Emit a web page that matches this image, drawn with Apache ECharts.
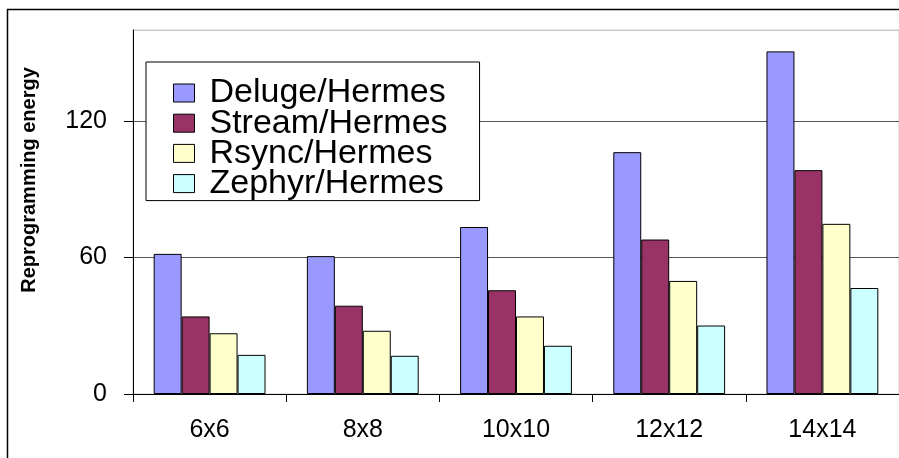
<!DOCTYPE html>
<html>
<head>
<meta charset="utf-8">
<script src="https://cdn.jsdelivr.net/npm/echarts@6/dist/echarts.min.js"></script>
<style>
html,body{margin:0;padding:0;background:#fff;}
#chart{width:899px;height:458px;}
</style>
</head>
<body>
<div id="chart"></div>
<script>
var categories = ['6x6', '8x8', '10x10', '12x12', '14x14'];
var seriesNames = ['Deluge/Hermes', 'Stream/Hermes', 'Rsync/Hermes', 'Zephyr/Hermes'];
var deluge = [61.6, 60.6, 73.4, 106.3, 150.6];
var stream = [34.1, 38.8, 45.6, 67.9, 98.4];
var rsync = [26.7, 27.8, 34.1, 49.7, 74.8];
var zephyr = [17.2, 16.8, 21.2, 30.1, 46.6];
var yTicks = [0, 60, 120];
var yAxisTitle = 'Reprogramming energy';

var colors = ['#9999FF', '#993366', '#FFFFCC', '#CCFFFF'];
var values = [deluge, stream, rsync, zephyr];
var FONT = '"Liberation Sans", Arial, sans-serif';

var chart = echarts.init(document.getElementById('chart'));
chart.setOption({
  animation: false,
  backgroundColor: '#fff',
  color: colors,
  grid: {
    left: 133, top: 30, right: -11, bottom: 64,
    show: true, borderColor: '#c8c8c8', borderWidth: 1, backgroundColor: 'transparent'
  },
  legend: {
    orient: 'vertical',
    left: 146, top: 62,
    backgroundColor: '#fff',
    borderColor: '#000', borderWidth: 1,
    padding: [14, 32, 0, 27],
    itemWidth: 21, itemHeight: 18, itemGap: -3.8,
    icon: 'rect',
    itemStyle: { borderColor: '#000', borderWidth: 1 },
    textStyle: { fontFamily: FONT, fontSize: 34, color: '#000', padding: [0, 0, 0, 10] },
    data: seriesNames
  },
  xAxis: {
    type: 'category',
    data: categories,
    boundaryGap: true,
    axisLine: { lineStyle: { color: '#000', width: 1 } },
    axisTick: { show: true, length: 8, lineStyle: { color: '#000' } },
    axisLabel: { fontFamily: FONT, fontSize: 25, color: '#000', margin: 24 },
    splitLine: { show: false }
  },
  yAxis: {
    type: 'value',
    min: 0, max: 160, interval: 60,
    axisLine: { show: true, lineStyle: { color: '#000', width: 1 } },
    axisTick: { show: true, length: 9, lineStyle: { color: '#000' } },
    axisLabel: {
      fontFamily: FONT, fontSize: 25, color: '#000', margin: 26, showMaxLabel: false,
      formatter: function (v) { return yTicks.indexOf(v) >= 0 ? String(v) : ''; }
    },
    splitLine: { show: true, lineStyle: { color: ['#555', '#555', '#555', '#c8c8c8'], width: 1 } }
  },
  graphic: [
    {
      type: 'rect', silent: true, z: 100,
      shape: { x: 7.5, y: 9.5, width: 1000, height: 1000 },
      style: { fill: 'none', stroke: '#000', lineWidth: 1.5 }
    },
    {
      type: 'text', silent: true, z: 100,
      x: 29, y: 180, rotation: Math.PI / 2,
      style: {
        text: yAxisTitle, fontFamily: FONT, fontSize: 20, fontWeight: 'bold', fill: '#000',
        align: 'center', verticalAlign: 'middle'
      }
    }
  ],
  series: seriesNames.map(function (name, i) {
    return {
      name: name,
      type: 'bar',
      data: values[i],
      barGap: '0%',
      barCategoryGap: '27%',
      itemStyle: { color: colors[i], borderColor: '#000', borderWidth: 1 }
    };
  })
});
</script>
</body>
</html>
